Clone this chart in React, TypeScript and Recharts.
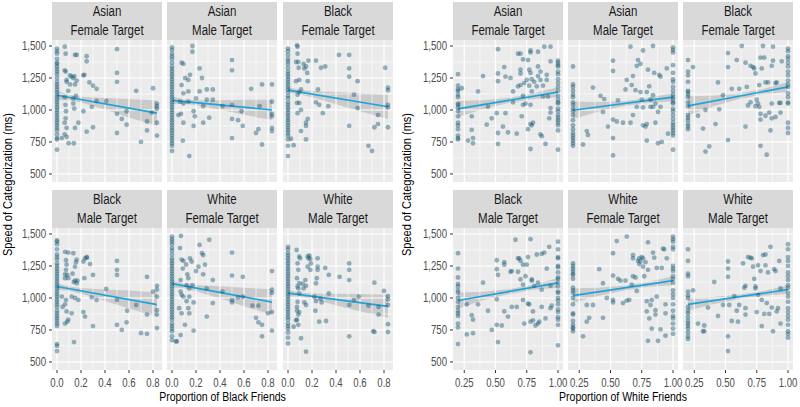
import {
  Area,
  ComposedChart,
  Line,
  ReferenceArea,
  ReferenceLine,
  Scatter,
  XAxis,
  YAxis,
} from "recharts";

type Pt = [number, number];
type Band = [number, number, number];

// ---- Proportion of Black friends (left plot) ----
const bfAsianF_min = [1480, 1460, 1440, 1400, 1370, 1360, 1340, 1320, 1300, 1280, 1250, 1220, 1200, 1180, 1160, 1140, 1120, 1100, 1080, 1060, 1040, 1020, 1000, 980, 960, 940, 920, 900, 880, 860, 840, 810, 780, 770, 690];
const bfAsianF_pts: Pt[] = [[0.064, 1495], [0.072, 1440], [0.064, 1310], [0.072, 1300], [0.08, 1235], [0.08, 1220], [0.064, 1100], [0.07, 1040], [0.075, 990], [0.072, 935], [0.064, 900], [0.08, 860], [0.08, 790], [0.04, 780], [0.064, 810], [0.097, 740], [0.14, 740], [0.15, 1430], [0.164, 1430], [0.108, 1270], [0.12, 1260], [0.136, 1250], [0.144, 1265], [0.108, 1200], [0.15, 1200], [0.164, 1230], [0.094, 1150], [0.136, 1090], [0.158, 1110], [0.136, 1050], [0.144, 1010], [0.178, 900], [0.15, 860], [0.22, 1270], [0.228, 1275], [0.247, 1420], [0.247, 1380], [0.22, 990], [0.247, 830], [0.27, 1215], [0.3, 1190], [0.33, 1165], [0.29, 1025], [0.3, 865], [0.33, 1070], [0.41, 1070], [0.5, 1475], [0.5, 1290], [0.5, 1220], [0.5, 970], [0.5, 820], [0.54, 930], [0.58, 885], [0.58, 990], [0.66, 1150], [0.7, 750], [0.75, 910], [0.75, 840], [0.8, 1170], [0.79, 980], [0.833, 1050], [0.833, 1030], [0.833, 1010], [0.833, 900], [0.833, 800]];
const bfAsianF_fit = [1115, 975];
const bfAsianF_band: Band[] = [[0, 1077, 1153], [0.1, 1076, 1120], [0.2, 1059, 1103], [0.4, 1003, 1093], [0.6, 942, 1086], [0.833, 875, 1075]];

const bfAsianM_min = [1490, 1470, 1440, 1420, 1400, 1370, 1340, 1320, 1300, 1280, 1260, 1240, 1220, 1200, 1180, 1160, 1140, 1120, 1100, 1080, 1060, 1040, 1020, 1000, 980, 960, 940, 920, 900, 880, 860, 840, 820, 800, 780, 760, 740, 720, 680];
const bfAsianM_pts: Pt[] = [[0.08, 1370], [0.095, 1360], [0.17, 1500], [0.17, 1455], [0.15, 1275], [0.136, 1235], [0.11, 1250], [0.08, 1195], [0.095, 1130], [0.136, 1145], [0.067, 1065], [0.095, 1050], [0.136, 1065], [0.053, 960], [0.075, 970], [0.095, 900], [0.09, 760], [0.144, 640], [0.18, 990], [0.19, 950], [0.18, 875], [0.2, 1090], [0.23, 1325], [0.25, 1250], [0.23, 1145], [0.29, 1160], [0.34, 1160], [0.29, 1080], [0.34, 1080], [0.26, 1030], [0.26, 900], [0.31, 940], [0.42, 1030], [0.5, 1390], [0.5, 1310], [0.5, 1040], [0.5, 930], [0.5, 780], [0.55, 920], [0.58, 990], [0.59, 875], [0.66, 1165], [0.7, 820], [0.72, 850], [0.75, 730], [0.75, 1200], [0.73, 1030], [0.833, 1200], [0.833, 1065], [0.833, 970], [0.833, 950], [0.833, 860], [0.833, 835]];
const bfAsianM_fit = [1075, 1000];
const bfAsianM_band: Band[] = [[0, 1047, 1103], [0.1, 1048, 1084], [0.2, 1037, 1077], [0.4, 1001, 1077], [0.6, 963, 1079], [0.833, 920, 1080]];

const bfBlackF_min = [1480, 1460, 1430, 1400, 1380, 1360, 1330, 1300, 1280, 1260, 1240, 1220, 1200, 1180, 1160, 1140, 1110, 1090, 1060, 1040, 1020, 1000, 980, 960, 940, 920, 900, 880, 860, 840, 820, 800, 770, 720, 640];
const bfBlackF_pts: Pt[] = [[0.075, 1505], [0.08, 1495], [0.08, 1440], [0.067, 1375], [0.086, 1375], [0.089, 1330], [0.136, 1325], [0.15, 1340], [0.17, 1385], [0.13, 1360], [0.16, 1290], [0.164, 1225], [0.094, 1235], [0.067, 1225], [0.108, 1160], [0.094, 1140], [0.08, 1120], [0.094, 1055], [0.075, 1055], [0.108, 1000], [0.08, 975], [0.164, 930], [0.15, 900], [0.15, 875], [0.108, 835], [0.047, 725], [0.15, 770], [0.025, 775], [0.233, 1385], [0.275, 1330], [0.31, 1340], [0.25, 1160], [0.233, 1060], [0.26, 1040], [0.29, 975], [0.336, 1030], [0.425, 1430], [0.51, 1430], [0.51, 1325], [0.51, 1260], [0.51, 875], [0.55, 1120], [0.58, 1225], [0.58, 1015], [0.67, 720], [0.7, 680], [0.72, 865], [0.75, 890], [0.75, 960], [0.81, 1330], [0.833, 1175], [0.833, 1155], [0.833, 1040], [0.833, 1020], [0.833, 865]];
const bfBlackF_fit = [1155, 1025];
const bfBlackF_band: Band[] = [[0, 1130, 1180], [0.1, 1121, 1157], [0.2, 1100, 1148], [0.4, 1045, 1141], [0.6, 991, 1131], [0.833, 930, 1120]];

const bfBlackM_min = [1450, 1440, 1420, 1380, 1340, 1320, 1300, 1270, 1250, 1230, 1210, 1190, 1170, 1150, 1130, 1110, 1090, 1070, 1050, 1030, 1010, 990, 970, 950, 930, 900, 880, 860, 840, 820, 800, 780, 640, 625, 585];
const bfBlackM_pts: Pt[] = [[0.067, 1360], [0.094, 1355], [0.075, 1295], [0.08, 1260], [0.075, 1220], [0.067, 1185], [0.086, 1180], [0.067, 1155], [0.094, 1155], [0.136, 1350], [0.164, 1300], [0.158, 1280], [0.15, 1245], [0.13, 1190], [0.15, 1135], [0.14, 1125], [0.164, 1115], [0.17, 1135], [0.22, 1285], [0.233, 1310], [0.247, 1320], [0.25, 1315], [0.228, 1155], [0.275, 1265], [0.3, 1180], [0.33, 985], [0.29, 1005], [0.047, 930], [0.067, 950], [0.075, 985], [0.04, 1010], [0.122, 1010], [0.15, 1000], [0.178, 985], [0.08, 895], [0.122, 880], [0.094, 830], [0.086, 815], [0.067, 800], [0.142, 655], [0.22, 890], [0.233, 855], [0.3, 780], [0.41, 1070], [0.5, 1290], [0.5, 1220], [0.5, 1180], [0.5, 985], [0.5, 790], [0.54, 750], [0.58, 810], [0.585, 900], [0.66, 945], [0.7, 725], [0.75, 720], [0.75, 1165], [0.75, 870], [0.8, 1050], [0.833, 1095], [0.833, 1065], [0.833, 1010], [0.833, 905], [0.833, 870], [0.833, 765]];
const bfBlackM_fit = [1090, 948];
const bfBlackM_band: Band[] = [[0, 1065, 1115], [0.1, 1056, 1090], [0.2, 1034, 1078], [0.4, 977, 1067], [0.6, 918, 1058], [0.833, 853, 1043]];

const bfWhiteF_min = [1480, 1460, 1440, 1420, 1390, 1370, 1340, 1310, 1290, 1270, 1250, 1230, 1210, 1190, 1170, 1150, 1130, 1110, 1090, 1070, 1050, 1030, 1010, 990, 970, 950, 930, 910, 890, 870, 850, 830, 800, 780, 760, 740, 700, 670];
const bfWhiteF_pts: Pt[] = [[0.075, 1485], [0.067, 1390], [0.08, 1300], [0.095, 1290], [0.09, 1230], [0.072, 1140], [0.072, 1050], [0.08, 1025], [0.06, 920], [0.08, 880], [0.072, 710], [0.04, 660], [0.033, 660], [0.117, 1260], [0.15, 1310], [0.164, 1285], [0.128, 1185], [0.136, 1155], [0.122, 1100], [0.144, 1075], [0.17, 1100], [0.144, 1010], [0.122, 975], [0.136, 920], [0.144, 880], [0.108, 790], [0.18, 745], [0.095, 1010], [0.18, 965], [0.2, 1210], [0.22, 1245], [0.23, 1415], [0.25, 1350], [0.26, 1335], [0.275, 1260], [0.26, 1185], [0.31, 1455], [0.34, 1140], [0.34, 960], [0.29, 855], [0.29, 1075], [0.42, 1050], [0.5, 1355], [0.5, 1175], [0.5, 985], [0.5, 965], [0.55, 1005], [0.59, 1165], [0.59, 1010], [0.67, 940], [0.72, 940], [0.7, 845], [0.72, 810], [0.75, 790], [0.75, 700], [0.8, 880], [0.833, 1210], [0.833, 1065], [0.833, 1040], [0.833, 890], [0.833, 745]];
const bfWhiteF_fit = [1112, 968];
const bfWhiteF_band: Band[] = [[0, 1084, 1140], [0.1, 1077, 1113], [0.2, 1053, 1101], [0.4, 995, 1091], [0.6, 936, 1080], [0.833, 868, 1068]];

const bfWhiteM_min = [1400, 1380, 1350, 1330, 1310, 1290, 1270, 1250, 1230, 1210, 1190, 1170, 1150, 1130, 1110, 1090, 1070, 1050, 1030, 1010, 990, 970, 950, 930, 910, 890, 870, 850, 830, 800, 780, 760, 730, 690, 645];
const bfWhiteM_pts: Pt[] = [[0.072, 1375], [0.094, 1325], [0.1, 1310], [0.08, 1270], [0.086, 1220], [0.075, 1155], [0.094, 1115], [0.08, 1090], [0.086, 1075], [0.08, 970], [0.075, 930], [0.075, 900], [0.094, 890], [0.086, 870], [0.075, 830], [0.067, 825], [0.086, 790], [0.047, 775], [0.108, 685], [0.15, 580], [0.094, 1035], [0.122, 1110], [0.13, 1075], [0.144, 1140], [0.15, 1095], [0.136, 965], [0.15, 945], [0.164, 1325], [0.17, 1310], [0.178, 1330], [0.186, 1305], [0.19, 1270], [0.164, 1245], [0.186, 1220], [0.22, 1010], [0.247, 1310], [0.247, 1245], [0.247, 1220], [0.24, 1155], [0.233, 1115], [0.233, 975], [0.27, 995], [0.228, 900], [0.28, 965], [0.31, 1235], [0.26, 815], [0.317, 820], [0.34, 1180], [0.34, 1035], [0.43, 1165], [0.51, 1270], [0.51, 1220], [0.51, 1140], [0.51, 945], [0.51, 700], [0.55, 985], [0.59, 1010], [0.67, 940], [0.72, 1120], [0.71, 740], [0.72, 735], [0.755, 930], [0.755, 870], [0.8, 1055], [0.833, 1015], [0.833, 990], [0.833, 945], [0.833, 795], [0.833, 735]];
const bfWhiteM_fit = [1038, 935];
const bfWhiteM_band: Band[] = [[0, 1013, 1063], [0.1, 1010, 1042], [0.2, 991, 1035], [0.4, 943, 1033], [0.6, 896, 1032], [0.833, 845, 1025]];

// ---- Proportion of White friends (right plot) ----
const wfAsianF_min = [1280, 1190, 1160, 1150, 1120, 1100, 1050, 1040, 1020, 990, 950, 900, 880, 850, 800, 780, 770];
const wfAsianF_max = [1385, 1370, 1350, 1340, 1300, 1280, 1240, 1210, 1180, 1150, 1110, 1080, 1060, 1050, 1010, 990, 960, 940, 920, 900, 880, 840, 690];
const wfAsianF_pts: Pt[] = [[0.23, 1170], [0.28, 760], [0.32, 780], [0.32, 740], [0.31, 950], [0.31, 845], [0.36, 1145], [0.4, 1265], [0.43, 885], [0.44, 1025], [0.47, 935], [0.52, 1475], [0.52, 1285], [0.52, 1225], [0.51, 975], [0.52, 820], [0.52, 735], [0.56, 870], [0.57, 1335], [0.58, 1260], [0.58, 975], [0.6, 825], [0.62, 1250], [0.64, 1145], [0.64, 1060], [0.68, 1440], [0.7, 1440], [0.68, 1185], [0.67, 815], [0.7, 1315], [0.7, 1285], [0.7, 1195], [0.72, 1395], [0.73, 1210], [0.72, 1110], [0.72, 1040], [0.74, 1050], [0.71, 950], [0.76, 1390], [0.78, 1450], [0.78, 1465], [0.77, 1315], [0.78, 1290], [0.75, 1235], [0.77, 1190], [0.79, 1145], [0.79, 1240], [0.78, 1040], [0.76, 850], [0.78, 890], [0.79, 880], [0.8, 900], [0.78, 695], [0.81, 1220], [0.84, 1455], [0.84, 1340], [0.84, 1265], [0.83, 1185], [0.86, 1300], [0.86, 1235], [0.88, 1190], [0.88, 1105], [0.86, 810], [0.87, 795], [0.89, 1495], [0.9, 735], [0.94, 1495], [0.94, 1380], [0.94, 1015], [0.94, 980], [0.93, 935], [0.92, 1105], [0.91, 1275], [0.91, 1235]];
const wfAsianF_fit = [1008, 1140];
const wfAsianF_band: Band[] = [[0.2, 946, 1070], [0.4, 1006, 1076], [0.6, 1054, 1094], [0.8, 1085, 1129], [1.0, 1100, 1180]];

const wfAsianM_min = [1340, 1200, 1180, 1150, 1120, 1100, 1060, 1040, 1010, 990, 960, 920, 880, 850, 820, 800, 780, 760, 740, 720];
const wfAsianM_max = [1490, 1470, 1450, 1350, 1290, 1240, 1220, 1180, 1150, 1120, 1100, 1080, 1060, 1050, 1010, 990, 960, 930, 900, 880, 860, 840, 820, 800, 690];
const wfAsianM_pts: Pt[] = [[0.28, 730], [0.31, 835], [0.32, 805], [0.36, 1175], [0.42, 1110], [0.44, 985], [0.45, 1085], [0.48, 870], [0.52, 1385], [0.52, 1305], [0.52, 925], [0.52, 780], [0.52, 645], [0.55, 910], [0.56, 1075], [0.6, 900], [0.62, 1160], [0.63, 1235], [0.66, 900], [0.66, 1495], [0.68, 960], [0.67, 1195], [0.68, 1265], [0.7, 1155], [0.71, 1025], [0.71, 1345], [0.72, 1390], [0.74, 1360], [0.74, 1140], [0.75, 1080], [0.76, 1465], [0.76, 1020], [0.76, 880], [0.78, 870], [0.79, 1140], [0.79, 890], [0.8, 1315], [0.81, 1185], [0.82, 1080], [0.82, 1025], [0.84, 1025], [0.84, 1500], [0.84, 1115], [0.85, 1290], [0.86, 1050], [0.86, 900], [0.88, 985], [0.89, 1275], [0.9, 1260], [0.9, 1025], [0.88, 740], [0.91, 750], [0.79, 760], [0.95, 1325], [0.96, 815]];
const wfAsianM_fit = [998, 1100];
const wfAsianM_band: Band[] = [[0.2, 930, 1066], [0.4, 986, 1062], [0.6, 1029, 1069], [0.8, 1057, 1093], [1.0, 1068, 1132]];

const wfBlackF_min = [1390, 1300, 1270, 1220, 1150, 1140, 1120, 1100, 1060, 1030, 960, 940, 920, 890, 870, 850];
const wfBlackF_max = [1480, 1460, 1420, 1400, 1370, 1340, 1300, 1270, 1230, 1200, 1180, 1130, 1100, 1060, 1050, 900, 860, 820];
const wfBlackF_pts: Pt[] = [[0.24, 1335], [0.28, 955], [0.32, 855], [0.34, 1000], [0.34, 675], [0.37, 715], [0.42, 890], [0.44, 1215], [0.45, 1005], [0.48, 1115], [0.52, 1445], [0.52, 1335], [0.52, 765], [0.55, 1165], [0.59, 1390], [0.61, 1165], [0.63, 1500], [0.66, 1370], [0.66, 870], [0.67, 1180], [0.68, 1035], [0.7, 1060], [0.7, 1345], [0.72, 1335], [0.73, 1325], [0.74, 1285], [0.74, 1030], [0.75, 1080], [0.76, 1050], [0.77, 1195], [0.77, 1025], [0.78, 970], [0.78, 925], [0.78, 720], [0.78, 1410], [0.79, 1325], [0.8, 1500], [0.81, 1410], [0.82, 1215], [0.82, 955], [0.83, 650], [0.84, 1215], [0.85, 980], [0.87, 1050], [0.87, 935], [0.87, 1345], [0.88, 1495], [0.88, 1385], [0.86, 840], [0.9, 945], [0.9, 1210], [0.91, 1215], [0.93, 1055], [0.94, 1055], [0.94, 980], [0.95, 1380]];
const wfBlackF_fit = [1032, 1180];
const wfBlackF_band: Band[] = [[0.2, 957, 1107], [0.4, 1027, 1111], [0.6, 1084, 1128], [0.8, 1123, 1163], [1.0, 1142, 1218]];

const wfBlackM_min = [1350, 1230, 1160, 1110, 1090, 1060, 1040, 1000, 970, 930, 900, 880, 860, 800, 770, 640];
const wfBlackM_max = [1440, 1380, 1320, 1310, 1250, 1240, 1200, 1160, 1150, 1120, 1090, 1050, 1040, 1000, 980, 950, 910, 890, 850, 830, 790, 630];
const wfBlackM_pts: Pt[] = [[0.27, 950], [0.27, 715], [0.32, 725], [0.31, 865], [0.32, 830], [0.36, 950], [0.4, 1120], [0.44, 900], [0.47, 750], [0.51, 1295], [0.51, 1225], [0.52, 1180], [0.51, 990], [0.51, 790], [0.52, 655], [0.55, 785], [0.57, 1280], [0.57, 1260], [0.57, 895], [0.6, 855], [0.62, 1205], [0.63, 1210], [0.63, 930], [0.66, 1455], [0.67, 930], [0.68, 1310], [0.68, 1205], [0.69, 1310], [0.7, 1290], [0.7, 1145], [0.72, 1260], [0.72, 1105], [0.72, 985], [0.73, 800], [0.74, 1170], [0.75, 1260], [0.76, 955], [0.76, 1320], [0.77, 950], [0.78, 815], [0.79, 1145], [0.78, 1460], [0.78, 575], [0.79, 1135], [0.8, 825], [0.8, 895], [0.81, 1095], [0.82, 785], [0.83, 1340], [0.84, 1120], [0.84, 800], [0.85, 815], [0.87, 1345], [0.87, 930], [0.87, 1065], [0.89, 1355], [0.9, 840], [0.91, 1230], [0.93, 1400], [0.94, 920], [0.94, 1095], [0.95, 940]];
const wfBlackM_fit = [980, 1118];
const wfBlackM_band: Band[] = [[0.2, 918, 1042], [0.4, 982, 1048], [0.6, 1029, 1069], [0.8, 1064, 1104], [1.0, 1080, 1156]];

const wfWhiteF_min = [1270, 1250, 1230, 1210, 1190, 1180, 1150, 1080, 1060, 1040, 1000, 950, 880, 870, 820, 790, 770, 760, 740];
const wfWhiteF_max = [1480, 1460, 1440, 1400, 1380, 1250, 1230, 1210, 1170, 1150, 1120, 1060, 1030, 1000, 950, 900, 860, 840, 800, 760, 720];
const wfWhiteF_pts: Pt[] = [[0.28, 700], [0.31, 945], [0.31, 815], [0.33, 845], [0.36, 945], [0.41, 1225], [0.44, 1115], [0.44, 845], [0.47, 1000], [0.52, 985], [0.52, 965], [0.52, 1175], [0.52, 1350], [0.55, 1445], [0.56, 1150], [0.58, 1135], [0.6, 960], [0.62, 1135], [0.63, 1480], [0.63, 980], [0.65, 985], [0.67, 1105], [0.68, 1335], [0.68, 1310], [0.68, 1170], [0.7, 1160], [0.71, 1055], [0.72, 1290], [0.73, 1310], [0.73, 1265], [0.74, 1285], [0.75, 1320], [0.76, 1245], [0.76, 1310], [0.77, 1170], [0.78, 1280], [0.79, 895], [0.79, 975], [0.8, 1435], [0.8, 665], [0.8, 1220], [0.81, 840], [0.82, 945], [0.83, 985], [0.83, 760], [0.84, 1355], [0.85, 1315], [0.86, 905], [0.86, 870], [0.87, 1010], [0.87, 1235], [0.88, 665], [0.9, 755], [0.91, 1235], [0.92, 1385], [0.93, 1380], [0.94, 950], [0.94, 880], [0.94, 705], [0.95, 1310]];
const wfWhiteF_fit = [1018, 1135];
const wfWhiteF_band: Band[] = [[0.2, 960, 1076], [0.4, 1015, 1079], [0.6, 1057, 1095], [0.8, 1087, 1125], [1.0, 1100, 1170]];

const wfWhiteM_min = [1380, 1290, 1190, 1170, 1050, 1020, 1000, 930, 900, 880, 850, 820, 800, 780, 760, 730, 700, 680];
const wfWhiteM_max = [1420, 1380, 1320, 1290, 1250, 1200, 1170, 1140, 1100, 1080, 1040, 1010, 970, 920, 890, 860, 830, 790, 740, 720, 690];
const wfWhiteM_pts: Pt[] = [[0.24, 1060], [0.28, 800], [0.32, 740], [0.33, 785], [0.33, 740], [0.36, 925], [0.41, 1125], [0.44, 860], [0.48, 945], [0.52, 1285], [0.52, 1230], [0.52, 1165], [0.52, 700], [0.52, 585], [0.53, 945], [0.55, 820], [0.57, 1015], [0.59, 900], [0.6, 815], [0.61, 945], [0.64, 1270], [0.65, 1080], [0.66, 1095], [0.66, 920], [0.66, 870], [0.68, 1320], [0.7, 1315], [0.71, 1310], [0.72, 1245], [0.73, 1150], [0.74, 1075], [0.74, 1090], [0.75, 890], [0.76, 1255], [0.76, 1025], [0.78, 1210], [0.79, 985], [0.79, 780], [0.8, 1335], [0.81, 875], [0.82, 1340], [0.82, 1255], [0.83, 960], [0.84, 1200], [0.85, 875], [0.86, 1400], [0.87, 925], [0.88, 740], [0.89, 1225], [0.9, 1210], [0.91, 895], [0.92, 920], [0.93, 1290], [0.94, 1075], [0.94, 800]];
const wfWhiteM_fit = [950, 1065];
const wfWhiteM_band: Band[] = [[0.2, 900, 1000], [0.4, 951, 1007], [0.6, 990, 1026], [0.8, 1018, 1054], [1.0, 1033, 1097]];

const groups = ["Asian", "Asian", "Black", "Black", "White", "White"];
const targets = ["Female Target", "Male Target", "Female Target", "Male Target", "Female Target", "Male Target"];

const leftXTicks = [0, 0.2, 0.4, 0.6, 0.8];
const rightXTicks = [0.25, 0.5, 0.75, 1.0];
const leftXMinor = [0.1, 0.3, 0.5, 0.7];
const rightXMinor = [0.375, 0.625, 0.875];
const yTicks = [500, 750, 1000, 1250, 1500];
const yMinor = [625, 875, 1125, 1375];

const LEFT_X_DOMAIN: [number, number] = [-0.0417, 0.875];
const RIGHT_X_DOMAIN: [number, number] = [0.16, 1.04];
const Y_DOMAIN: [number, number] = [437, 1547];

const PANEL_W = 110;
const PANEL_H = 142;
const STRIP_H = 38;
const Y_AXIS_W = 44;
const X_AXIS_H = 22;
const PAD = 14; // room so edge tick labels are not clipped
const FONT = "'Liberation Sans', Arial, Helvetica, sans-serif";

const POINT_COLOR = "#1B5B75";
const FIT_COLOR = "#1FA3DB";

interface FacetData {
  group: string;
  target: string;
  points: { x: number; y: number }[];
  fit: { x: number; y: number }[];
  band: { x: number; band: [number, number] }[];
}

function buildFacet(
  i: number,
  minX: number,
  maxX: number,
  minYs: number[],
  pts: Pt[],
  fit: number[],
  band: Band[],
  maxYs: number[] = [],
): FacetData {
  return {
    group: groups[i],
    target: targets[i],
    points: [
      ...minYs.map((y) => ({ x: minX, y })),
      ...pts.map(([x, y]) => ({ x, y })),
      ...maxYs.map((y) => ({ x: maxX, y })),
    ],
    fit: [
      { x: minX, y: fit[0] },
      { x: maxX, y: fit[1] },
    ],
    band: band.map(([x, lo, hi]) => ({ x, band: [lo, hi] as [number, number] })),
  };
}

const leftFacets: FacetData[] = [
  buildFacet(0, 0, 0.833, bfAsianF_min, bfAsianF_pts, bfAsianF_fit, bfAsianF_band),
  buildFacet(1, 0, 0.833, bfAsianM_min, bfAsianM_pts, bfAsianM_fit, bfAsianM_band),
  buildFacet(2, 0, 0.833, bfBlackF_min, bfBlackF_pts, bfBlackF_fit, bfBlackF_band),
  buildFacet(3, 0, 0.833, bfBlackM_min, bfBlackM_pts, bfBlackM_fit, bfBlackM_band),
  buildFacet(4, 0, 0.833, bfWhiteF_min, bfWhiteF_pts, bfWhiteF_fit, bfWhiteF_band),
  buildFacet(5, 0, 0.833, bfWhiteM_min, bfWhiteM_pts, bfWhiteM_fit, bfWhiteM_band),
];

const rightFacets: FacetData[] = [
  buildFacet(0, 0.2, 1, wfAsianF_min, wfAsianF_pts, wfAsianF_fit, wfAsianF_band, wfAsianF_max),
  buildFacet(1, 0.2, 1, wfAsianM_min, wfAsianM_pts, wfAsianM_fit, wfAsianM_band, wfAsianM_max),
  buildFacet(2, 0.2, 1, wfBlackF_min, wfBlackF_pts, wfBlackF_fit, wfBlackF_band, wfBlackF_max),
  buildFacet(3, 0.2, 1, wfBlackM_min, wfBlackM_pts, wfBlackM_fit, wfBlackM_band, wfBlackM_max),
  buildFacet(4, 0.2, 1, wfWhiteF_min, wfWhiteF_pts, wfWhiteF_fit, wfWhiteF_band, wfWhiteF_max),
  buildFacet(5, 0.2, 1, wfWhiteM_min, wfWhiteM_pts, wfWhiteM_fit, wfWhiteM_band, wfWhiteM_max),
];

// narrow-looking tick text: Liberation Sans squeezed horizontally
function YTick({ x, y, payload }: any) {
  return (
    <g transform={`translate(${x},${y})`}>
      <text transform="scale(0.8,1)" textAnchor="end" dy="0.36em" fill="#4D4D4D" fontSize={12}>
        {Number(payload.value).toLocaleString("en-US")}
      </text>
    </g>
  );
}

function makeXTick(digits: number) {
  return function XTick({ x, y, payload }: any) {
    return (
      <g transform={`translate(${x},${y})`}>
        <text transform="scale(0.8,1)" textAnchor="middle" dy="0.72em" fill="#4D4D4D" fontSize={12}>
          {Number(payload.value).toFixed(digits)}
        </text>
      </g>
    );
  };
}

const LeftXTick = makeXTick(1);
const RightXTick = makeXTick(2);

interface FacetProps {
  facet: FacetData;
  left: number;
  top: number;
  showY: boolean;
  showX: boolean;
  xDomain: [number, number];
  xTicks: number[];
  xMinor: number[];
  XTickComp: (p: any) => any;
}

function Facet({ facet, left, top, showY, showX, xDomain, xTicks, xMinor, XTickComp }: FacetProps) {
  const yw = showY ? Y_AXIS_W : 0;
  const xh = showX ? X_AXIS_H : 0;
  return (
    <>
      <div
        style={{
          position: "absolute",
          left,
          top,
          width: PANEL_W,
          height: STRIP_H,
          background: "#D9D9D9",
          color: "#1A1A1A",
          fontSize: 14,
          lineHeight: "19px",
          textAlign: "center",
        }}
      >
        <div style={{ transform: "scaleX(0.82)", whiteSpace: "nowrap" }}>{facet.group}</div>
        <div style={{ transform: "scaleX(0.82)", whiteSpace: "nowrap" }}>{facet.target}</div>
      </div>
      <div style={{ position: "absolute", left: left - yw - PAD, top: top + STRIP_H }}>
        <ComposedChart
          width={PANEL_W + yw + 2 * PAD}
          height={PANEL_H + xh}
          margin={{ top: 0, right: PAD, bottom: 0, left: PAD }}
        >
          <XAxis
            dataKey="x"
            type="number"
            domain={xDomain}
            allowDataOverflow
            ticks={xTicks}
            hide={!showX}
            height={X_AXIS_H}
            axisLine={false}
            tickLine={{ stroke: "#333" }}
            tickSize={3}
            tickMargin={5}
            tick={<XTickComp />}
            interval={0}
          />
          <YAxis
            type="number"
            domain={Y_DOMAIN}
            allowDataOverflow
            ticks={yTicks}
            hide={!showY}
            width={Y_AXIS_W}
            axisLine={false}
            tickLine={{ stroke: "#333" }}
            tickSize={3}
            tickMargin={3}
            tick={<YTick />}
            interval={0}
          />
          <ReferenceArea
            x1={xDomain[0]}
            x2={xDomain[1]}
            y1={Y_DOMAIN[0]}
            y2={Y_DOMAIN[1]}
            fill="#EBEBEB"
            fillOpacity={1}
            stroke="none"
          />
          {yMinor.map((v) => (
            <ReferenceLine key={`ym${v}`} y={v} stroke="#FFFFFF" strokeWidth={0.6} />
          ))}
          {xMinor.map((v) => (
            <ReferenceLine key={`xm${v}`} x={v} stroke="#FFFFFF" strokeWidth={0.6} />
          ))}
          {yTicks.map((v) => (
            <ReferenceLine key={`y${v}`} y={v} stroke="#FFFFFF" strokeWidth={1.2} />
          ))}
          {xTicks.map((v) => (
            <ReferenceLine key={`x${v}`} x={v} stroke="#FFFFFF" strokeWidth={1.2} />
          ))}
          <Scatter
            data={facet.points}
            dataKey="y"
            isAnimationActive={false}
            shape={(p: any) => (
              <circle cx={p.cx} cy={p.cy} r={2.4} fill={POINT_COLOR} fillOpacity={0.45} />
            )}
          />
          <Area
            data={facet.band}
            dataKey="band"
            type="linear"
            stroke="none"
            fill="#999999"
            fillOpacity={0.4}
            isAnimationActive={false}
            activeDot={false}
          />
          <Line
            data={facet.fit}
            dataKey="y"
            type="linear"
            stroke={FIT_COLOR}
            strokeWidth={1.7}
            dot={false}
            activeDot={false}
            isAnimationActive={false}
          />
        </ComposedChart>
      </div>
    </>
  );
}

const leftCols = [52, 167, 283];
const rightCols = [453, 568, 683];
const rowTops = [2, 190];

const titleStyle = {
  position: "absolute" as const,
  textAlign: "center" as const,
  fontSize: 12.5,
  lineHeight: "15px",
  color: "#000",
  whiteSpace: "nowrap" as const,
};

export default function App() {
  return (
    <div
      style={{
        position: "absolute",
        left: 0,
        top: 0,
        width: 800,
        height: 407,
        background: "#FFFFFF",
        fontFamily: FONT,
        overflow: "hidden",
      }}
    >
      {leftFacets.map((f, i) => (
        <Facet
          key={`l${i}`}
          facet={f}
          left={leftCols[i % 3]}
          top={rowTops[Math.floor(i / 3)]}
          showY={i % 3 === 0}
          showX={i >= 3}
          xDomain={LEFT_X_DOMAIN}
          xTicks={leftXTicks}
          xMinor={leftXMinor}
          XTickComp={LeftXTick}
        />
      ))}
      {rightFacets.map((f, i) => (
        <Facet
          key={`r${i}`}
          facet={f}
          left={rightCols[i % 3]}
          top={rowTops[Math.floor(i / 3)]}
          showY={i % 3 === 0}
          showX={i >= 3}
          xDomain={RIGHT_X_DOMAIN}
          xTicks={rightXTicks}
          xMinor={rightXMinor}
          XTickComp={RightXTick}
        />
      ))}

      {/* axis titles */}
      <div style={{ ...titleStyle, left: 52, width: 341, top: 390, transform: "scaleX(0.84)" }}>
        Proportion of Black Friends
      </div>
      <div style={{ ...titleStyle, left: 453, width: 340, top: 390, transform: "scaleX(0.84)" }}>
        Proportion of White Friends
      </div>
      <div style={{ ...titleStyle, left: 8 - 150, top: 184 - 7.5, width: 300, transform: "rotate(-90deg) scaleX(0.88)" }}>
        Speed of Categorization (ms)
      </div>
      <div style={{ ...titleStyle, left: 407 - 150, top: 184 - 7.5, width: 300, transform: "rotate(-90deg) scaleX(0.88)" }}>
        Speed of Categorization (ms)
      </div>
    </div>
  );
}
